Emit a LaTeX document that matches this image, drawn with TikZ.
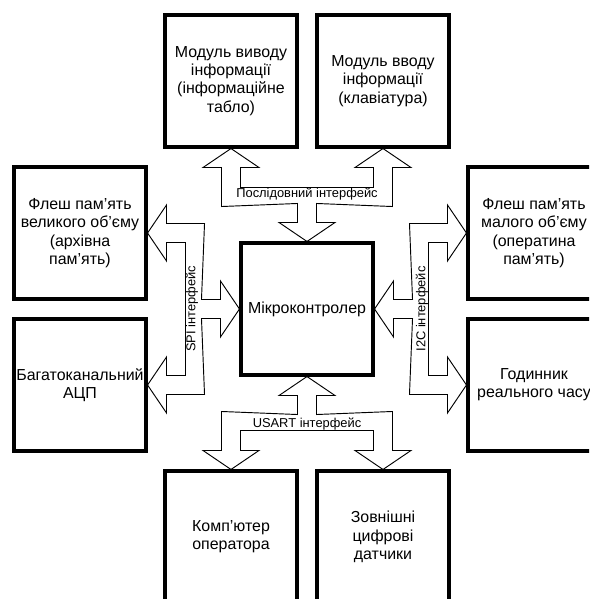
\documentclass[tikz,border=0pt]{standalone}
\usepackage{fontspec}
\setmainfont{Liberation Sans}
\usetikzlibrary{calc}

\begin{document}
\begin{tikzpicture}[x=0.3mm,y=-0.3mm,
  block/.style={draw,line width=2.6pt,minimum width=39.6mm,minimum height=39.6mm,inner sep=0pt,align=center,font=\fontsize{13.6}{15.6}\selectfont},
  bus/.style={draw,line width=0.8pt,line join=miter},
  buslabel/.style={inner sep=0pt,font=\fontsize{11}{13}\selectfont}]
\useasboundingbox (0,0) rectangle (589,599);
\clip (0,0) rectangle (589,599);
% blocks
\node[block] (mcu) at (307,309) {Мікроконтролер};
\node[block] (disp) at (231,81) {Модуль виводу\\інформації\\(інформаційне\\табло)};
\node[block] (kbd) at (383,81) {Модуль вводу\\інформації\\(клавіатура)};
\node[block] (flashbig) at (80,233) {Флеш пам’ять\\великого об’єму\\(архівна\\пам’ять)};
\node[block] (adc) at (80,385) {Багатоканальний\\АЦП};
\node[block] (flashsmall) at (534,233) {Флеш пам’ять\\малого об’єму\\(оператина\\пам’ять)};
\node[block] (rtc) at (534,385) {Годинник\\реального часу};
\node[block] (pc) at (231,537) {Комп’ютер\\оператора};
\node[block] (sensors) at (383,537) {Зовнішні\\цифрові\\датчики};
% serial bus (top)
\draw[bus] ($(disp.south)+(-28,19)$) -- (disp.south) -- ($(disp.south)+(28,19)$)
  -- ($(disp.south)+(9.5,19)$) -- ($(disp.south)+(9.5,39)$)
  -- ($(kbd.south)+(-9.5,39)$) -- ($(kbd.south)+(-9.5,19)$)
  -- ($(kbd.south)+(-28,19)$) -- (kbd.south) -- ($(kbd.south)+(28,19)$)
  -- ($(kbd.south)+(9.5,19)$) -- ($(kbd.south)+(9.5,58)$)
  -- ($(mcu.north)+(9.5,-38)$) -- ($(mcu.north)+(9.5,-19)$)
  -- ($(mcu.north)+(28,-19)$) -- (mcu.north) -- ($(mcu.north)+(-28,-19)$)
  -- ($(mcu.north)+(-9.5,-19)$) -- ($(mcu.north)+(-9.5,-38)$)
  -- ($(disp.south)+(-9.5,58)$) -- ($(disp.south)+(-9.5,19)$) -- cycle;
\node[buslabel] (serlbl) at ($(mcu.north)+(0,-47.5)$) {Послідовний інтерфейс};
% SPI bus (left)
\draw[bus] ($(flashbig.east)+(19,-28)$) -- (flashbig.east) -- ($(flashbig.east)+(19,28)$)
  -- ($(flashbig.east)+(19,9.5)$) -- ($(flashbig.east)+(38,9.5)$)
  -- ($(adc.east)+(38,-9.5)$) -- ($(adc.east)+(19,-9.5)$)
  -- ($(adc.east)+(19,-28)$) -- (adc.east) -- ($(adc.east)+(19,28)$)
  -- ($(adc.east)+(19,9.5)$) -- ($(adc.east)+(57,9.5)$)
  -- ($(mcu.west)+(-38,9.5)$) -- ($(mcu.west)+(-19,9.5)$)
  -- ($(mcu.west)+(-19,28)$) -- (mcu.west) -- ($(mcu.west)+(-19,-28)$)
  -- ($(mcu.west)+(-19,-9.5)$) -- ($(mcu.west)+(-38,-9.5)$)
  -- ($(flashbig.east)+(57,-9.5)$) -- ($(flashbig.east)+(19,-9.5)$) -- cycle;
\node[buslabel,rotate=90] (spilbl) at ($(mcu.west)+(-47.5,0)$) {SPI інтерфейс};
% I2C bus (right)
\draw[bus] ($(mcu.east)+(19,-28)$) -- (mcu.east) -- ($(mcu.east)+(19,28)$)
  -- ($(mcu.east)+(19,9.5)$) -- ($(mcu.east)+(38,9.5)$)
  -- ($(rtc.west)+(-57,9.5)$) -- ($(rtc.west)+(-19,9.5)$)
  -- ($(rtc.west)+(-19,28)$) -- (rtc.west) -- ($(rtc.west)+(-19,-28)$)
  -- ($(rtc.west)+(-19,-9.5)$) -- ($(rtc.west)+(-38,-9.5)$)
  -- ($(flashsmall.west)+(-38,9.5)$) -- ($(flashsmall.west)+(-19,9.5)$)
  -- ($(flashsmall.west)+(-19,28)$) -- (flashsmall.west) -- ($(flashsmall.west)+(-19,-28)$)
  -- ($(flashsmall.west)+(-19,-9.5)$) -- ($(flashsmall.west)+(-57,-9.5)$)
  -- ($(mcu.east)+(38,-9.5)$) -- ($(mcu.east)+(19,-9.5)$) -- cycle;
\node[buslabel,rotate=90] (i2clbl) at ($(mcu.east)+(47.5,0)$) {I2C інтерфейс};
% USART bus (bottom)
\draw[bus] ($(mcu.south)+(-28,19)$) -- (mcu.south) -- ($(mcu.south)+(28,19)$)
  -- ($(mcu.south)+(9.5,19)$) -- ($(mcu.south)+(9.5,38)$)
  -- ($(sensors.north)+(9.5,-58)$) -- ($(sensors.north)+(9.5,-19)$)
  -- ($(sensors.north)+(28,-19)$) -- (sensors.north) -- ($(sensors.north)+(-28,-19)$)
  -- ($(sensors.north)+(-9.5,-19)$) -- ($(sensors.north)+(-9.5,-39)$)
  -- ($(pc.north)+(9.5,-39)$) -- ($(pc.north)+(9.5,-19)$)
  -- ($(pc.north)+(28,-19)$) -- (pc.north) -- ($(pc.north)+(-28,-19)$)
  -- ($(pc.north)+(-9.5,-19)$) -- ($(pc.north)+(-9.5,-58)$)
  -- ($(mcu.south)+(-9.5,38)$) -- ($(mcu.south)+(-9.5,19)$) -- cycle;
\node[buslabel] (usartlbl) at ($(mcu.south)+(0,47.5)$) {USART інтерфейс};
\end{tikzpicture}
\end{document}
